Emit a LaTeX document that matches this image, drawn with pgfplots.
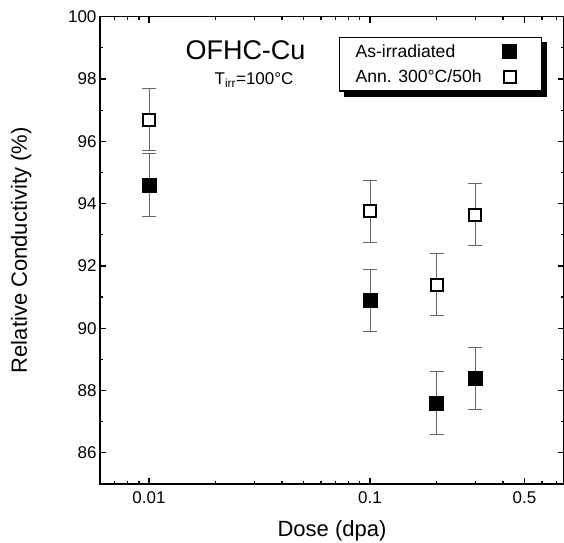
\documentclass[border=0pt]{standalone}
\usepackage{fontspec}
\setmainfont{Liberation Sans}
\usepackage{pgfplots}
\pgfplotsset{compat=1.18}
\pgfdeclarelayer{background}
\pgfsetlayers{background,main}
\pgfplotsset{mylegend/.style={legend image code/.code={\path[draw=none] (0pt,0pt) -- (44pt,0pt); \path[##1,draw=none,mark repeat=2,mark phase=2] plot coordinates {(0pt,0pt)(26pt,0pt)(52pt,0pt)};}}}

\begin{document}
\begin{tikzpicture}
\useasboundingbox (-100pt,-58pt) rectangle (464pt,484pt);
\begin{axis}[
  at={(0,0)}, anchor=south west,
  scale only axis, width=464pt, height=467.3pt,
  xmode=log, xmin=0.006, xmax=0.755, ymin=85, ymax=100,
  xtick={0.01,0.1,0.5}, xticklabels={0.01,0.1,0.5},
  minor xtick={0.007,0.008,0.009,0.02,0.03,0.04,0.05,0.06,0.07,0.08,0.09,0.2,0.3,0.4,0.6,0.7},
  ytick={86,88,...,100}, minor ytick={87,89,...,99},
  tick align=inside, major tick length=6pt, minor tick length=3.5pt,
  every tick/.style={black, line width=1.2pt},
  axis line style={line width=1.4pt},
  tick label style={font=\fontsize{17}{20}\selectfont},
  xticklabel style={yshift=-4pt},
  /pgf/number format/assume math mode=true,
  xlabel={Dose (dpa)}, ylabel={Relative Conductivity (\%)},
  every axis x label/.style={at={(axis description cs:0.5,-0.100)}, anchor=center, font=\fontsize{22}{26}\selectfont},
  every axis y label/.style={at={(axis description cs:-0.170,0.5)}, rotate=90, anchor=center, font=\fontsize{22}{26}\selectfont},
  legend plot pos=right,
  legend style={name=myleg, line width=1.2pt, fill=white, draw=black,
    at={(rel axis cs:0.515,0.957)}, anchor=north west,
    inner xsep=14pt, inner ysep=5pt, row sep=7pt,
    font=\fontsize{17.6}{20}\selectfont,
    cells={anchor=west}},
]
\addplot[forget plot, only marks, mark=square*, mark size=7pt, mark options={fill=black, draw=black, line width=0.4pt},
  error bars/.cd, y dir=both, y explicit,
  error bar style={gray!80!black, line width=0.8pt},
  error mark options={rotate=90, mark size=7pt, gray!80!black, line width=0.8pt}]
  table[x=x, y=y, y error=e] {
x y e
0.01 94.6 1
0.1 90.9 1
0.2 87.6 1
0.3 88.4 1
};
\addplot[forget plot, only marks, mark=square*, mark size=6pt, mark options={fill=white, draw=black, line width=2pt},
  error bars/.cd, y dir=both, y explicit,
  error bar style={gray!80!black, line width=0.8pt},
  error mark options={rotate=90, mark size=7pt, gray!80!black, line width=0.8pt}]
  table[x=x, y=y, y error=e] {
x y e
0.01 96.7 1
0.1 93.75 1
0.2 91.4 1
0.3 93.65 1
};
\addlegendimage{only marks, mark=square*, mark size=7pt, mark options={fill=black, draw=black, line width=0.4pt}, mylegend}
\addlegendentry{As-irradiated}
\addlegendimage{only marks, mark=square*, mark size=6pt, mark options={fill=white, draw=black, line width=2pt}, mylegend}
\addlegendentry{Ann. 300°C/50h}
\node[font=\fontsize{27}{30}\selectfont] at (rel axis cs:0.3136,0.929) {OFHC-Cu};
\node[font=\fontsize{17}{20}\selectfont] at (rel axis cs:0.332,0.8645) {T\textsubscript{irr}=100°C};
\end{axis}
\begin{pgfonlayer}{background}
\fill[black] ([shift={(5pt,-5pt)}]myleg.south west) rectangle ([shift={(5pt,-5pt)}]myleg.north east);
\end{pgfonlayer}
\end{tikzpicture}
\end{document}
